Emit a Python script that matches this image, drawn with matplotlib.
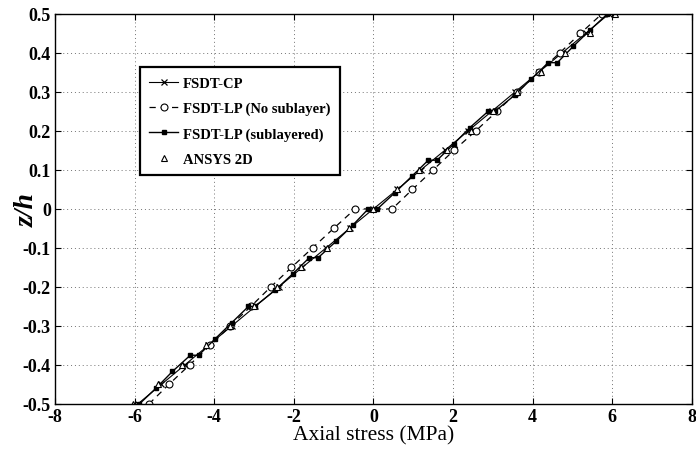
import numpy as np
import matplotlib.pyplot as plt

#------------------------------------------------------------------------------
# datos

# FSDT-CP
z_cp = [-0.5, -0.45, -0.4, -0.35, -0.3, -0.25, -0.2, -0.15, -0.1, -0.05, 0.0,
        0.05, 0.1, 0.15, 0.2, 0.25, 0.3, 0.35, 0.4, 0.45, 0.5]
s_cp = [-5.92, -5.33, -4.74, -4.15, -3.56, -2.97, -2.38, -1.79, -1.19, -0.6, 0.0,
        0.6, 1.19, 1.79, 2.38, 2.97, 3.56, 4.15, 4.74, 5.33, 5.92]

# FSDT-LP (No sublayer)
z_lp = [-0.5, -0.45, -0.4, -0.35, -0.3, -0.25, -0.2, -0.15, -0.1, -0.05, 0.0,
        0.0, 0.05, 0.1, 0.15, 0.2, 0.25, 0.3, 0.35, 0.4, 0.45, 0.5]
s_lp = [-5.64, -5.14, -4.62, -4.1, -3.6, -3.08, -2.58, -2.06, -1.53, -1.0, -0.46,
        0.47, 0.98, 1.5, 2.02, 2.57, 3.1, 3.62, 4.15, 4.68, 5.2, 5.74]

# FSDT-LP (sublayered)
z_sl = [-0.5, -0.4583, -0.4167, -0.375, -0.375, -0.3333, -0.2917, -0.25, -0.25,
        -0.2083, -0.1667, -0.125, -0.125, -0.0833, -0.0417, 0.0,
        0.0, 0.0417, 0.0833, 0.125, 0.125, 0.1667, 0.2083, 0.25, 0.25,
        0.2917, 0.3333, 0.375, 0.375, 0.4167, 0.4583, 0.5]
s_sl = [-5.88, -5.45, -5.05, -4.6, -4.39, -3.98, -3.56, -3.14, -2.98,
        -2.47, -2.03, -1.61, -1.39, -0.94, -0.52, -0.13,
        0.1, 0.54, 0.96, 1.38, 1.6, 2.02, 2.42, 2.88, 3.05,
        3.55, 3.97, 4.39, 4.62, 5.02, 5.44, 5.88]

# ANSYS 2D
z_an = [-0.5, -0.45, -0.4, -0.35, -0.3, -0.25, -0.2, -0.15, -0.1, -0.05, 0.0,
        0.05, 0.1, 0.15, 0.2, 0.25, 0.3, 0.35, 0.4, 0.45, 0.5]
s_an = [-6.05, -5.42, -4.8, -4.2, -3.6, -3.01, -2.42, -1.82, -1.17, -0.62, 0.0,
        0.6, 1.15, 1.85, 2.44, 3.01, 3.6, 4.2, 4.82, 5.44, 6.07]

x_ticks = [-8, -6, -4, -2, 0, 2, 4, 6, 8]
y_ticks = [-0.5, -0.4, -0.3, -0.2, -0.1, 0.0, 0.1, 0.2, 0.3, 0.4, 0.5]
y_tick_labels = ['-0.5', '-0.4', '-0.3', '-0.2', '-0.1', '0',
                 '0.1', '0.2', '0.3', '0.4', '0.5']

#------------------------------------------------------------------------------

plt.rcParams['font.family'] = ['Liberation Serif', 'DejaVu Serif']

fig = plt.figure(figsize=(6.96, 4.52), dpi=100)
ax = fig.add_axes([0.079, 0.104, 0.915, 0.863])

ax.plot(s_cp, z_cp, '-x', color='k', lw=0.8, ms=4, mew=0.9, label='FSDT-CP')
ax.plot(s_lp, z_lp, '--o', color='k', lw=0.9, ms=5, mfc='white', mew=0.8,
        dashes=(5, 4), label='FSDT-LP (No sublayer)')
ax.plot(s_sl, z_sl, '-s', color='k', lw=1.0, ms=3.5, label='FSDT-LP (sublayered)')
ax.plot(s_an, z_an, '^', color='k', ms=5, mfc='white', mew=0.8,
        linestyle='none', label='ANSYS 2D')

ax.set_xlim(-8, 8)
ax.set_ylim(-0.5, 0.5)
ax.set_xticks(x_ticks)
ax.set_yticks(y_ticks)
ax.set_xticklabels([str(v) for v in x_ticks])
ax.set_yticklabels(y_tick_labels)
ax.tick_params(direction='in', top=True, right=True, length=4, width=0.8,
               labelsize=13, pad=3)
for lbl in ax.get_xticklabels() + ax.get_yticklabels():
    lbl.set_fontweight('bold')

ax.grid(True, linestyle=(0, (1, 3)), color='0.45', lw=0.7)
for sp in ax.spines.values():
    sp.set_linewidth(1.0)

ax.set_xlabel('Axial stress (MPa)', fontsize=15.5, labelpad=0)
ax.set_ylabel('z/h', fontsize=20, fontweight='bold', fontstyle='italic')
ax.yaxis.set_label_coords(-0.024, 0.5)

leg = ax.legend(loc='upper left', bbox_to_anchor=(0.133, 0.864),
                borderaxespad=0, fancybox=False, edgecolor='k', framealpha=1,
                borderpad=0.65, handlelength=2.0, handletextpad=0.3,
                labelspacing=0.82, prop={'weight': 'bold', 'size': 10.5})
leg.get_frame().set_linewidth(1.6)

fig.savefig('out.png', dpi=100)
